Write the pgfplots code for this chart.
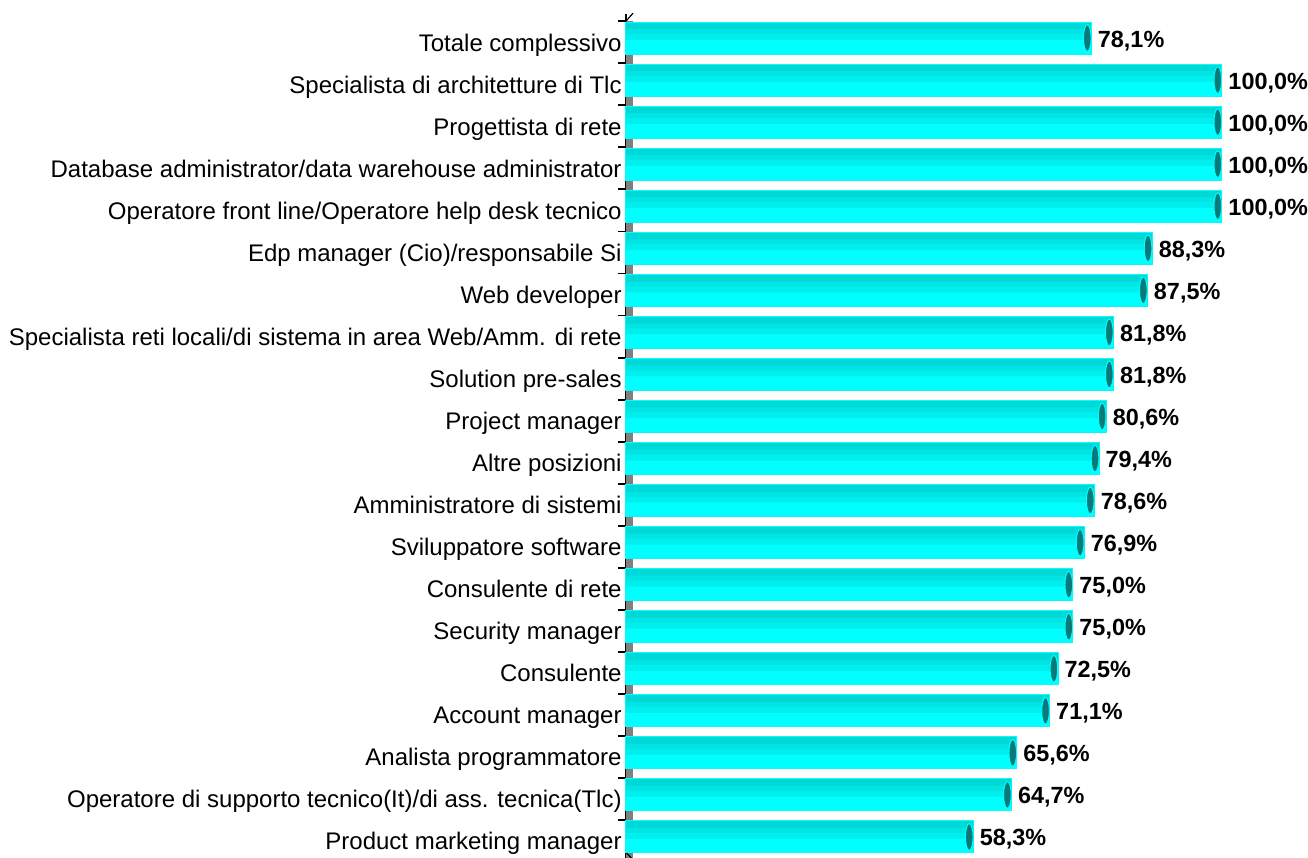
\documentclass[border=0pt]{standalone}
\usepackage{pgfplots}
\pgfplotsset{compat=1.18}
\usepackage{pgfplotstable}
\usepackage{fontspec}
\setmainfont{Liberation Sans}

\definecolor{bandA}{HTML}{00FFFF}
\definecolor{bandB}{HTML}{00EEEE}
\definecolor{bandC}{HTML}{00E4E4}
\definecolor{bandD}{HTML}{00D8D8}
\definecolor{capFill}{HTML}{087A7A}
\definecolor{wallGrey}{HTML}{808080}

% flat end face of each cylinder bar
\pgfdeclareplotmark{cylcap}{%
  \pgfpathellipse{\pgfpoint{-2.1pt}{0pt}}{\pgfpoint{1.9pt}{0pt}}{\pgfpoint{0pt}{6.7pt}}%
  \pgfusepathqfillstroke}

% share per professional profile (%), top to bottom
\pgfplotstableread{
idx val
0  78.1
1  100.0
2  100.0
3  100.0
4  100.0
5  88.3
6  87.5
7  81.8
8  81.8
9  80.6
10 79.4
11 78.6
12 76.9
13 75.0
14 75.0
15 72.5
16 71.1
17 65.6
18 64.7
19 58.3
}\shares

\begin{document}
\begin{tikzpicture}
\begin{axis}[
  x=2.98pt, y=21.025pt, y dir=reverse,
  xmin=0, xmax=110, ymin=-0.56, ymax=19.8,
  axis x line=none,
  axis y line*=left,
  axis line style={-, black, line width=0.8pt},
  ytick={-0.4,0.6,...,19.6},
  yticklabels={},
  major tick length=4pt,
  tick align=outside,
  major tick style={black, line width=0.9pt},
  extra y ticks={0,...,19},
  extra y tick labels={
    Totale complessivo,
    Specialista di architetture di Tlc,
    Progettista di rete,
    Database administrator/data warehouse administrator,
    Operatore front line/Operatore help desk tecnico,
    Edp manager (Cio)/responsabile Si,
    Web developer,
    Specialista reti locali/di sistema in area Web/Amm. di rete,
    Solution pre-sales,
    Project manager,
    Altre posizioni,
    Amministratore di sistemi,
    Sviluppatore software,
    Consulente di rete,
    Security manager,
    Consulente,
    Account manager,
    Analista programmatore,
    Operatore di supporto tecnico(It)/di ass. tecnica(Tlc),
    Product marketing manager},
  extra y tick style={major tick length=0pt,
    yticklabel style={font=\fontsize{12}{14}\selectfont, anchor=base east,
      inner sep=0pt, xshift=-2pt, yshift=-6.5pt}},
  clip=false,
]
% grey side wall behind the bars
\fill[wallGrey] (axis cs:0,-0.4) rectangle ([xshift=3.5pt]axis cs:0,19.8);
\draw[black, line width=0.6pt] (axis cs:0,-0.4) -- ([xshift=3.5pt,yshift=4pt]axis cs:0,-0.4);
\draw[black, line width=0.6pt] (axis cs:0,19.36) -- ([xshift=3.5pt,yshift=-4pt]axis cs:0,19.36);

% cylinder body, built from colour bands of decreasing width
\addplot[xbar, bar width=16pt, bar shift=0pt, draw=bandA, line width=0.5pt, fill=bandD]
  table[x=val, y=idx]{\shares};
\addplot[xbar, bar width=12.5pt, bar shift=-1.75pt, draw=none, fill=bandC]
  table[x=val, y=idx]{\shares};
\addplot[xbar, bar width=10pt, bar shift=-3pt, draw=none, fill=bandB]
  table[x=val, y=idx]{\shares};
\addplot[xbar, bar width=7pt, bar shift=-4.5pt, draw=none, fill=bandA]
  table[x=val, y=idx]{\shares};

% end faces and value labels
\addplot[only marks, mark=cylcap,
  mark options={fill=capFill, draw=bandA, line width=0.5pt},
  point meta=x,
  nodes near coords={\pgfmathprintnumber[fixed, fixed zerofill, precision=1,
      use comma, assume math mode=true]{\pgfplotspointmeta}\%},
  every node near coord/.append style={anchor=base west, inner sep=0pt,
    xshift=3pt, yshift=-4.5pt, text=black,
    font=\bfseries\fontsize{11.7}{14}\selectfont}]
  table[x=val, y=idx]{\shares};

\coordinate (bbTL) at (axis cs:-105.03,-0.904);
\coordinate (bbBR) at (axis cs:114.43,19.50);
\end{axis}
\pgfresetboundingbox
\useasboundingbox (bbTL) rectangle (bbBR);
\end{tikzpicture}
\end{document}
